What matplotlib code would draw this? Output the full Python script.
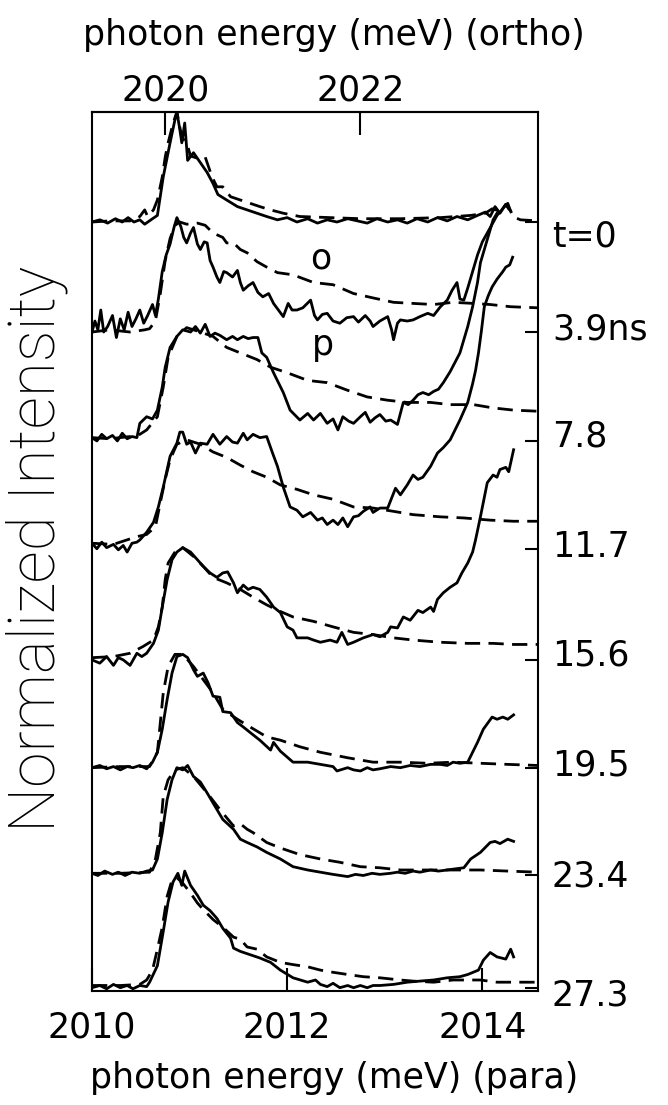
import numpy as np
import matplotlib
matplotlib.use("Agg")
import matplotlib.pyplot as plt
from matplotlib.transforms import blended_transform_factory

# ---------------------------------------------------------------
# normalized PL spectra, para (solid) / ortho (dashed), one pair per delay
# energies in meV on the para scale
# ---------------------------------------------------------------
delays = ["t=0", "3.9ns", "7.8", "11.7", "15.6", "19.5", "23.4", "27.3"]

# t = 0
e_para_0 = [2010.00, 2010.08, 2010.16, 2010.24, 2010.31, 2010.37, 2010.43, 2010.49, 2010.54, 2010.62,
            2010.67, 2010.73, 2010.80, 2010.85, 2010.87, 2010.90, 2010.92, 2010.95, 2010.98, 2011.04,
            2011.11, 2011.18, 2011.24, 2011.29, 2011.38, 2011.49, 2011.59, 2011.69, 2011.79, 2011.90,
            2012.00, 2012.10, 2012.21, 2012.31, 2012.41, 2012.51, 2012.62, 2012.72, 2012.82, 2012.92,
            2013.03, 2013.13, 2013.23, 2013.33, 2013.44, 2013.54, 2013.64, 2013.74, 2013.85, 2013.95,
            2014.03, 2014.08, 2014.13, 2014.18, 2014.24, 2014.29]
i_para_0 = [0.00, 0.02, -0.01, 0.03, 0.00, 0.04, 0.00, 0.02, -0.02, 0.03,
            0.06, 0.41, 0.72, 0.93, 1.00, 0.84, 0.72, 0.90, 0.56, 0.63,
            0.54, 0.45, 0.35, 0.25, 0.20, 0.14, 0.11, 0.08, 0.05, 0.02,
            0.04, 0.00, 0.03, -0.01, 0.02, 0.00, 0.03, 0.01, -0.01, 0.03,
            0.00, 0.02, -0.01, 0.03, 0.00, 0.04, 0.01, 0.05, 0.02, 0.06,
            0.09, 0.05, 0.14, 0.08, 0.16, 0.10]
e_orth_0 = [2010.00, 2010.18, 2010.39, 2010.49, 2010.54, 2010.57, 2010.63, 2010.67, 2010.72, 2010.75,
            2010.78, 2010.82, 2010.85, 2010.87, 2010.92, 2010.97, 2011.01, 2011.08, 2011.16, 2011.23,
            2011.28, 2011.34, 2011.42, 2011.52, 2011.62, 2011.72, 2011.83, 2011.96, 2012.13, 2012.44,
            2012.75, 2013.16, 2013.57, 2013.88, 2014.03, 2014.10, 2014.18, 2014.26, 2014.31, 2014.39,
            2014.57]
i_orth_0 = [0.00, 0.01, 0.01, 0.05, 0.11, 0.05, 0.11, 0.20, 0.41, 0.59,
            0.72, 0.86, 0.95, 1.00, 0.77, 0.72, 0.60, 0.58, 0.59, 0.41,
            0.32, 0.32, 0.23, 0.20, 0.17, 0.14, 0.11, 0.08, 0.05, 0.04,
            0.03, 0.03, 0.04, 0.06, 0.08, 0.12, 0.10, 0.17, 0.05, 0.02,
            0.01]

# 3.9 ns
e_para_1 = [2010.00, 2010.03, 2010.06, 2010.09, 2010.12, 2010.16, 2010.21, 2010.25, 2010.29, 2010.33,
            2010.37, 2010.41, 2010.45, 2010.49, 2010.53, 2010.57, 2010.62, 2010.65, 2010.68, 2010.72,
            2010.76, 2010.80, 2010.84, 2010.87, 2010.91, 2010.94, 2010.97, 2011.01, 2011.04, 2011.08,
            2011.11, 2011.15, 2011.18, 2011.21, 2011.24, 2011.28, 2011.31, 2011.35, 2011.38, 2011.44,
            2011.49, 2011.52, 2011.55, 2011.60, 2011.65, 2011.70, 2011.75, 2011.81, 2011.86, 2011.91,
            2011.96, 2012.01, 2012.05, 2012.10, 2012.16, 2012.24, 2012.28, 2012.31, 2012.36, 2012.41,
            2012.47, 2012.54, 2012.61, 2012.68, 2012.73, 2012.80, 2012.85, 2012.88, 2012.95, 2013.03,
            2013.07, 2013.09, 2013.13, 2013.16, 2013.23, 2013.29, 2013.36, 2013.44, 2013.50, 2013.57,
            2013.64, 2013.69, 2013.74, 2013.77, 2013.81, 2013.85, 2013.90, 2013.95, 2014.00, 2014.05,
            2014.10, 2014.15, 2014.19, 2014.24, 2014.27]
i_para_1 = [0.00, 0.10, 0.02, 0.20, 0.00, 0.05, 0.15, -0.05, 0.12, 0.02,
            0.18, 0.05, 0.12, 0.20, 0.08, 0.15, 0.25, 0.15, 0.30, 0.55,
            0.70, 0.80, 0.95, 1.04, 0.96, 0.86, 0.81, 0.90, 0.95, 0.80,
            0.75, 0.82, 0.81, 0.65, 0.59, 0.50, 0.45, 0.55, 0.54, 0.50,
            0.56, 0.45, 0.38, 0.42, 0.45, 0.36, 0.32, 0.35, 0.26, 0.20,
            0.14, 0.26, 0.20, 0.20, 0.22, 0.29, 0.15, 0.11, 0.16, 0.17,
            0.10, 0.08, 0.13, 0.14, 0.09, 0.15, 0.10, 0.05, 0.10, 0.14,
            0.02, -0.07, 0.08, 0.11, 0.10, 0.11, 0.14, 0.17, 0.15, 0.23,
            0.29, 0.38, 0.45, 0.30, 0.29, 0.40, 0.55, 0.70, 0.82, 0.90,
            0.98, 1.06, 1.10, 1.16, 1.12]
e_orth_1 = [2010.00, 2010.18, 2010.39, 2010.54, 2010.59, 2010.65, 2010.70, 2010.75, 2010.80, 2010.85,
            2010.90, 2010.97, 2011.08, 2011.16, 2011.24, 2011.34, 2011.38, 2011.45, 2011.52, 2011.59,
            2011.69, 2011.79, 2011.90, 2012.06, 2012.27, 2012.47, 2012.68, 2012.88, 2013.09, 2013.29,
            2013.50, 2013.70, 2013.91, 2014.08, 2014.29, 2014.57]
i_orth_1 = [0.00, 0.02, 0.00, 0.02, 0.03, 0.10, 0.35, 0.65, 0.85, 0.97,
            1.00, 0.98, 0.99, 0.97, 0.90, 0.86, 0.81, 0.81, 0.75, 0.72,
            0.64, 0.59, 0.54, 0.52, 0.45, 0.43, 0.35, 0.31, 0.27, 0.26,
            0.25, 0.27, 0.26, 0.25, 0.23, 0.22]

# 7.8 ns
e_para_2 = [2010.00, 2010.05, 2010.10, 2010.15, 2010.21, 2010.26, 2010.31, 2010.36, 2010.41, 2010.46,
            2010.49, 2010.56, 2010.62, 2010.67, 2010.72, 2010.75, 2010.80, 2010.87, 2010.93, 2011.01,
            2011.06, 2011.11, 2011.16, 2011.21, 2011.26, 2011.31, 2011.38, 2011.44, 2011.49, 2011.55,
            2011.60, 2011.65, 2011.70, 2011.74, 2011.79, 2011.86, 2011.96, 2012.03, 2012.13, 2012.21,
            2012.27, 2012.34, 2012.41, 2012.47, 2012.52, 2012.57, 2012.63, 2012.68, 2012.75, 2012.80,
            2012.85, 2012.90, 2012.95, 2013.01, 2013.06, 2013.13, 2013.19, 2013.24, 2013.29, 2013.34,
            2013.39, 2013.45, 2013.50, 2013.55, 2013.60, 2013.67, 2013.77, 2013.85, 2013.90, 2013.95,
            2013.98, 2014.05, 2014.11, 2014.15]
i_para_2 = [0.03, 0.00, 0.06, 0.02, 0.05, 0.00, 0.07, 0.02, 0.04, 0.03,
            0.16, 0.22, 0.20, 0.28, 0.49, 0.67, 0.85, 0.95, 1.01, 0.99,
            1.04, 0.98, 1.06, 0.95, 0.98, 0.96, 0.92, 0.95, 0.92, 0.95,
            0.93, 0.94, 0.94, 0.80, 0.76, 0.62, 0.44, 0.28, 0.19, 0.25,
            0.19, 0.25, 0.16, 0.20, 0.10, 0.22, 0.18, 0.16, 0.22, 0.26,
            0.17, 0.21, 0.24, 0.18, 0.19, 0.15, 0.35, 0.33, 0.37, 0.42,
            0.44, 0.42, 0.45, 0.47, 0.53, 0.63, 0.80, 1.04, 1.22, 1.44,
            1.62, 1.83, 2.01, 2.07]
e_orth_2 = [2010.00, 2010.18, 2010.39, 2010.49, 2010.56, 2010.67, 2010.73, 2010.78, 2010.87, 2010.97,
            2011.11, 2011.24, 2011.38, 2011.52, 2011.69, 2011.83, 2012.00, 2012.21, 2012.41, 2012.62,
            2012.82, 2013.03, 2013.23, 2013.47, 2013.67, 2013.91, 2014.11, 2014.32, 2014.57]
i_orth_2 = [0.03, 0.02, 0.04, 0.06, 0.10, 0.22, 0.49, 0.76, 0.95, 1.03,
            0.99, 0.95, 0.85, 0.80, 0.74, 0.67, 0.62, 0.55, 0.53, 0.46,
            0.40, 0.37, 0.35, 0.35, 0.33, 0.33, 0.30, 0.28, 0.27]

# 11.7 ns
e_para_3 = [2010.00, 2010.05, 2010.10, 2010.15, 2010.22, 2010.27, 2010.32, 2010.36, 2010.41, 2010.46,
            2010.49, 2010.56, 2010.63, 2010.68, 2010.73, 2010.77, 2010.80, 2010.87, 2010.90, 2010.93,
            2010.97, 2011.01, 2011.06, 2011.11, 2011.18, 2011.24, 2011.31, 2011.38, 2011.44, 2011.49,
            2011.55, 2011.59, 2011.65, 2011.72, 2011.79, 2011.85, 2011.90, 2011.96, 2012.03, 2012.10,
            2012.16, 2012.24, 2012.31, 2012.36, 2012.41, 2012.47, 2012.52, 2012.57, 2012.62, 2012.68,
            2012.73, 2012.78, 2012.85, 2012.88, 2012.95, 2013.03, 2013.11, 2013.16, 2013.23, 2013.29,
            2013.34, 2013.39, 2013.47, 2013.54, 2013.60, 2013.67, 2013.77, 2013.85, 2013.90, 2013.93,
            2013.96, 2013.99, 2014.02, 2014.06, 2014.10, 2014.15, 2014.21, 2014.24, 2014.28, 2014.31]
i_para_3 = [0.05, 0.00, 0.06, 0.01, 0.04, -0.01, 0.03, -0.03, 0.05, 0.06,
            0.08, 0.15, 0.24, 0.38, 0.56, 0.72, 0.84, 0.96, 1.06, 1.06,
            0.95, 0.97, 0.87, 0.96, 0.95, 1.04, 0.95, 1.02, 0.97, 0.96,
            1.05, 0.99, 1.04, 1.01, 1.02, 0.87, 0.75, 0.56, 0.38, 0.35,
            0.29, 0.33, 0.26, 0.28, 0.22, 0.26, 0.22, 0.28, 0.20, 0.29,
            0.30, 0.34, 0.38, 0.33, 0.37, 0.37, 0.55, 0.49, 0.58, 0.67,
            0.63, 0.65, 0.75, 0.87, 0.92, 0.99, 1.17, 1.33, 1.50, 1.62,
            1.78, 1.98, 2.20, 2.30, 2.38, 2.45, 2.52, 2.56, 2.58, 2.65]
e_orth_3 = [2010.00, 2010.22, 2010.46, 2010.56, 2010.65, 2010.70, 2010.75, 2010.80, 2010.87, 2010.97,
            2011.11, 2011.24, 2011.38, 2011.52, 2011.65, 2011.79, 2011.93, 2012.10, 2012.27, 2012.47,
            2012.68, 2012.88, 2013.09, 2013.29, 2013.57, 2013.81, 2014.08, 2014.32, 2014.57]
i_orth_3 = [0.05, 0.04, 0.11, 0.13, 0.20, 0.42, 0.63, 0.81, 0.95, 0.99,
            0.95, 0.88, 0.83, 0.76, 0.70, 0.65, 0.58, 0.54, 0.49, 0.45,
            0.38, 0.37, 0.34, 0.31, 0.29, 0.28, 0.26, 0.25, 0.25]

# 15.6 ns
e_para_4 = [2010.00, 2010.08, 2010.15, 2010.22, 2010.27, 2010.32, 2010.39, 2010.46, 2010.51, 2010.56,
            2010.63, 2010.68, 2010.72, 2010.77, 2010.82, 2010.87, 2010.93, 2011.01, 2011.08, 2011.14,
            2011.21, 2011.28, 2011.34, 2011.39, 2011.45, 2011.49, 2011.55, 2011.60, 2011.65, 2011.72,
            2011.79, 2011.86, 2011.93, 2012.00, 2012.06, 2012.10, 2012.21, 2012.27, 2012.34, 2012.44,
            2012.51, 2012.56, 2012.62, 2012.68, 2012.78, 2012.88, 2012.95, 2013.03, 2013.06, 2013.13,
            2013.19, 2013.26, 2013.34, 2013.39, 2013.47, 2013.50, 2013.54, 2013.60, 2013.67, 2013.74,
            2013.79, 2013.85, 2013.90, 2013.93, 2013.98, 2014.05, 2014.11, 2014.15, 2014.18, 2014.24,
            2014.27, 2014.32]
i_para_4 = [0.00, -0.03, 0.03, -0.05, 0.02, 0.00, -0.05, 0.06, 0.03, 0.06,
            0.15, 0.27, 0.48, 0.73, 0.91, 0.98, 1.02, 0.98, 0.91, 0.85,
            0.79, 0.75, 0.79, 0.80, 0.70, 0.61, 0.68, 0.64, 0.66, 0.64,
            0.57, 0.48, 0.43, 0.30, 0.27, 0.20, 0.20, 0.18, 0.16, 0.18,
            0.16, 0.25, 0.14, 0.16, 0.20, 0.23, 0.21, 0.25, 0.30, 0.29,
            0.39, 0.36, 0.45, 0.43, 0.48, 0.44, 0.55, 0.61, 0.66, 0.70,
            0.79, 0.88, 0.98, 1.09, 1.30, 1.61, 1.68, 1.66, 1.73, 1.75,
            1.71, 1.91]
e_orth_4 = [2010.00, 2010.22, 2010.39, 2010.52, 2010.63, 2010.68, 2010.72, 2010.75, 2010.78, 2010.85,
            2010.93, 2011.04, 2011.14, 2011.24, 2011.38, 2011.52, 2011.65, 2011.79, 2011.93, 2012.06,
            2012.27, 2012.47, 2012.68, 2012.88, 2013.09, 2013.29, 2013.57, 2013.85, 2014.11, 2014.32,
            2014.57]
i_orth_4 = [0.02, 0.03, 0.06, 0.12, 0.18, 0.30, 0.48, 0.73, 0.88, 0.98,
            1.02, 0.94, 0.85, 0.75, 0.70, 0.64, 0.57, 0.50, 0.44, 0.39,
            0.35, 0.30, 0.25, 0.23, 0.20, 0.18, 0.16, 0.15, 0.15, 0.14,
            0.14]

# 19.5 ns
e_para_5 = [2010.00, 2010.08, 2010.15, 2010.22, 2010.29, 2010.36, 2010.42, 2010.49, 2010.56, 2010.62,
            2010.67, 2010.72, 2010.77, 2010.82, 2010.87, 2010.93, 2010.98, 2011.04, 2011.08, 2011.14,
            2011.19, 2011.24, 2011.31, 2011.34, 2011.42, 2011.49, 2011.55, 2011.62, 2011.72, 2011.83,
            2011.86, 2011.93, 2012.06, 2012.21, 2012.34, 2012.47, 2012.51, 2012.62, 2012.68, 2012.75,
            2012.82, 2012.88, 2012.95, 2013.06, 2013.16, 2013.26, 2013.36, 2013.47, 2013.57, 2013.64,
            2013.70, 2013.77, 2013.85, 2013.95, 2014.01, 2014.10, 2014.15, 2014.21, 2014.26, 2014.32]
i_para_5 = [0.00, 0.02, -0.01, 0.01, -0.02, 0.01, 0.00, 0.02, -0.01, 0.05,
            0.14, 0.35, 0.62, 0.86, 1.01, 1.03, 1.00, 0.89, 0.83, 0.86,
            0.77, 0.65, 0.64, 0.51, 0.50, 0.41, 0.37, 0.32, 0.25, 0.16,
            0.23, 0.15, 0.05, 0.05, 0.03, 0.01, -0.03, 0.00, -0.02, -0.03,
            0.00, -0.02, -0.01, 0.01, 0.00, 0.02, 0.01, 0.03, 0.03, 0.02,
            0.05, 0.04, 0.05, 0.23, 0.35, 0.46, 0.44, 0.46, 0.44, 0.48]
e_orth_5 = [2010.00, 2010.29, 2010.59, 2010.67, 2010.70, 2010.73, 2010.78, 2010.85, 2010.93, 2011.04,
            2011.14, 2011.24, 2011.34, 2011.49, 2011.62, 2011.79, 2011.93, 2012.13, 2012.34, 2012.62,
            2012.88, 2013.16, 2013.44, 2013.70, 2013.98, 2014.26, 2014.57]
i_orth_5 = [0.00, 0.01, 0.01, 0.14, 0.41, 0.68, 0.92, 1.03, 1.03, 0.92,
            0.80, 0.68, 0.53, 0.44, 0.37, 0.28, 0.25, 0.19, 0.14, 0.09,
            0.05, 0.05, 0.04, 0.05, 0.04, 0.03, 0.02]

# 23.4 ns
e_para_6 = [2010.00, 2010.06, 2010.13, 2010.21, 2010.27, 2010.34, 2010.41, 2010.49, 2010.56, 2010.62,
            2010.67, 2010.72, 2010.77, 2010.82, 2010.87, 2010.93, 2010.98, 2011.04, 2011.11, 2011.18,
            2011.24, 2011.34, 2011.45, 2011.52, 2011.59, 2011.69, 2011.79, 2011.93, 2012.06, 2012.21,
            2012.34, 2012.47, 2012.62, 2012.70, 2012.78, 2012.87, 2012.95, 2013.06, 2013.13, 2013.21,
            2013.29, 2013.36, 2013.47, 2013.55, 2013.64, 2013.72, 2013.81, 2013.88, 2013.98, 2014.08,
            2014.13, 2014.18, 2014.22, 2014.26, 2014.32]
i_para_6 = [0.02, 0.00, 0.04, 0.01, 0.03, 0.00, 0.03, 0.02, 0.04, 0.05,
            0.15, 0.39, 0.69, 0.87, 0.98, 0.96, 1.00, 0.90, 0.85, 0.75,
            0.66, 0.51, 0.42, 0.33, 0.30, 0.26, 0.21, 0.15, 0.08, 0.05,
            0.03, 0.01, -0.01, 0.01, 0.00, 0.02, 0.01, 0.02, 0.03, 0.02,
            0.04, 0.03, 0.05, 0.04, 0.05, 0.06, 0.07, 0.15, 0.21, 0.30,
            0.31, 0.29, 0.31, 0.33, 0.31]
e_orth_6 = [2010.00, 2010.29, 2010.59, 2010.65, 2010.70, 2010.73, 2010.78, 2010.85, 2010.93, 2011.04,
            2011.18, 2011.31, 2011.45, 2011.52, 2011.59, 2011.65, 2011.79, 2011.93, 2012.13, 2012.34,
            2012.54, 2012.75, 2012.95, 2013.16, 2013.44, 2013.70, 2013.98, 2014.26, 2014.57]
i_orth_6 = [0.02, 0.02, 0.03, 0.15, 0.39, 0.72, 0.87, 0.96, 0.98, 0.90,
            0.75, 0.60, 0.45, 0.47, 0.42, 0.39, 0.30, 0.25, 0.19, 0.15,
            0.12, 0.08, 0.07, 0.05, 0.05, 0.05, 0.05, 0.04, 0.03]

# 27.3 ns
e_para_7 = [2010.00, 2010.08, 2010.15, 2010.22, 2010.29, 2010.36, 2010.42, 2010.49, 2010.56, 2010.59,
            2010.67, 2010.73, 2010.78, 2010.83, 2010.88, 2010.92, 2010.95, 2011.01, 2011.08, 2011.14,
            2011.21, 2011.28, 2011.34, 2011.42, 2011.45, 2011.52, 2011.62, 2011.72, 2011.83, 2011.93,
            2012.06, 2012.21, 2012.29, 2012.34, 2012.41, 2012.47, 2012.54, 2012.62, 2012.68, 2012.75,
            2012.82, 2012.88, 2012.95, 2013.09, 2013.23, 2013.36, 2013.50, 2013.64, 2013.77, 2013.85,
            2013.96, 2014.01, 2014.08, 2014.15, 2014.24, 2014.29, 2014.32]
i_para_7 = [0.00, 0.02, -0.01, 0.03, 0.00, 0.02, -0.01, 0.02, 0.01, 0.05,
            0.20, 0.51, 0.78, 0.96, 1.04, 0.93, 1.06, 0.93, 0.84, 0.75,
            0.70, 0.63, 0.54, 0.45, 0.36, 0.33, 0.30, 0.27, 0.23, 0.16,
            0.09, 0.05, 0.07, 0.03, 0.01, 0.04, 0.00, 0.02, 0.00, 0.02,
            0.00, 0.02, 0.02, 0.03, 0.05, 0.06, 0.07, 0.09, 0.10, 0.12,
            0.16, 0.25, 0.32, 0.28, 0.26, 0.35, 0.28]
e_orth_7 = [2010.00, 2010.29, 2010.49, 2010.56, 2010.62, 2010.67, 2010.72, 2010.77, 2010.82, 2010.87,
            2010.93, 2011.01, 2011.08, 2011.14, 2011.24, 2011.34, 2011.45, 2011.52, 2011.59, 2011.69,
            2011.79, 2011.93, 2012.06, 2012.21, 2012.34, 2012.47, 2012.62, 2012.78, 2012.95, 2013.16,
            2013.29, 2013.50, 2013.70, 2013.98, 2014.15, 2014.32, 2014.57]
i_orth_7 = [0.02, 0.02, 0.03, 0.07, 0.16, 0.35, 0.55, 0.83, 0.98, 1.00,
            0.95, 0.86, 0.77, 0.71, 0.62, 0.55, 0.46, 0.44, 0.37, 0.35,
            0.28, 0.23, 0.21, 0.19, 0.16, 0.14, 0.12, 0.10, 0.09, 0.07,
            0.06, 0.05, 0.07, 0.07, 0.05, 0.05, 0.05]

e_para = [e_para_0, e_para_1, e_para_2, e_para_3, e_para_4, e_para_5, e_para_6, e_para_7]
i_para = [i_para_0, i_para_1, i_para_2, i_para_3, i_para_4, i_para_5, i_para_6, i_para_7]
e_orth = [e_orth_0, e_orth_1, e_orth_2, e_orth_3, e_orth_4, e_orth_5, e_orth_6, e_orth_7]
i_orth = [i_orth_0, i_orth_1, i_orth_2, i_orth_3, i_orth_4, i_orth_5, i_orth_6, i_orth_7]

para_ticks = [2010, 2012, 2014]
ortho_ticks = [2020, 2022]
ortho_shift = 9.25   # ortho energy = para energy + shift

# --- layout ---
offsets = [6.99, 5.99, 5.00, 4.02, 3.01, 2.03, 1.05, 0.03]   # vertical stacking
label_y = [6.86, 6.01, 5.04, 4.04, 3.05, 2.05, 1.04, -0.04]

plt.rcParams["font.family"] = "DejaVu Sans"
LW = 2.0

fig = plt.figure(figsize=(6.68, 11.05), dpi=100)
ax = fig.add_axes([92 / 668, 1 - 991 / 1105, 446 / 668, 879 / 1105])

for k in range(len(delays)):
    ax.plot(e_para[k], np.array(i_para[k]) + offsets[k], color="black", lw=LW,
            solid_joinstyle="round")
    ax.plot(e_orth[k], np.array(i_orth[k]) + offsets[k], color="black", lw=LW,
            dashes=(5.5, 3.0))

ax.set_xlim(2010, 2014.57)
ax.set_ylim(0, 7.99)

for s in ax.spines.values():
    s.set_linewidth(1.5)

ax.set_xticks(para_ticks)
ax.tick_params(axis="x", top=False, direction="in", length=16.5, width=1.5,
               labelsize=25, pad=14)
ax.yaxis.tick_right()
ax.set_yticks(offsets)
ax.tick_params(axis="y", direction="in", length=9.4, width=1.5, labelright=False)

sec = ax.secondary_xaxis("top", functions=(lambda e: e + ortho_shift,
                                           lambda e: e - ortho_shift))
sec.set_xticks(ortho_ticks)
sec.tick_params(direction="in", length=16.5, width=1.5, labelsize=25, pad=3)
sec.spines["top"].set_linewidth(1.5)

# delay labels to the right
tr = blended_transform_factory(ax.transAxes, ax.transData)
for lab, y in zip(delays, label_y):
    ax.text(1.031, y, lab, transform=tr, fontsize=25, ha="left", va="center")

# o / p markers on the 3.9 ns curves
ax.text(2012.34, 6.66, "o", fontsize=25, ha="center", va="center")
ax.text(2012.37, 5.87, "p", fontsize=25, ha="center", va="center")

fig.text(0.5, 0.968, "photon energy (meV) (ortho)", fontsize=25, ha="center", va="center")
fig.text(0.5, 0.0245, "photon energy (meV) (para)", fontsize=25, ha="center", va="center")
fig.text(0.055, 0.503, "Normalized Intensity", fontsize=46, rotation=90,
         ha="center", va="center", family=["Roboto", "DejaVu Sans"], fontweight="light")

fig.savefig("out.png", dpi=100)
